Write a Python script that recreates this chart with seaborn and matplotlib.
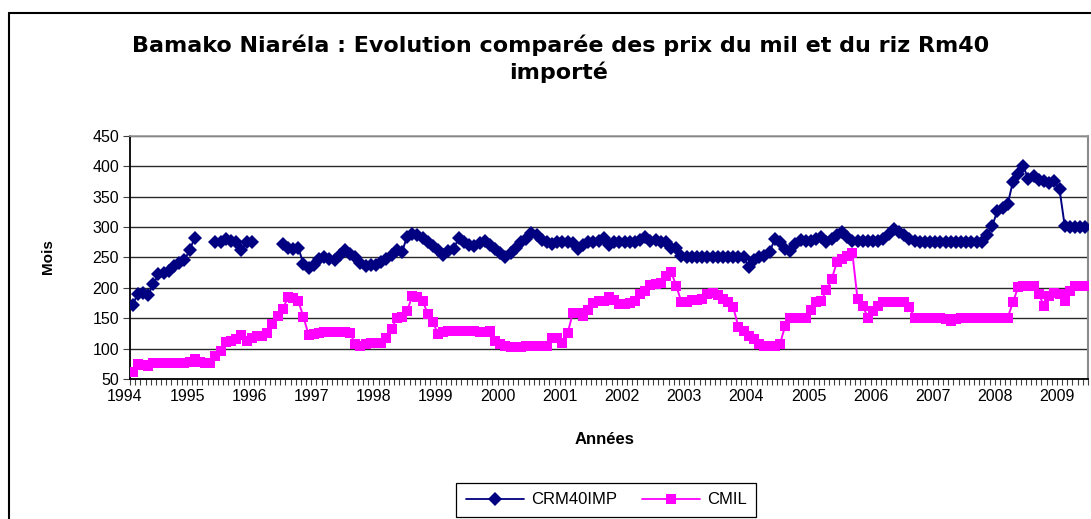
import numpy as np
import pandas as pd
import matplotlib
matplotlib.use("Agg")
import matplotlib.pyplot as plt
import matplotlib.transforms as mtransforms
from matplotlib.lines import Line2D
import seaborn as sns

# =====================================================
# DATA  (monthly prices, Jan 1994 -> May 2009)
# =====================================================

years = list(range(1994, 2010))
y_ticks = [50, 100, 150, 200, 250, 300, 350, 400, 450]

N = np.nan

crm40imp = [
    172, 190, 192, 188, 206, 222, 225, 228, 235, 240, 245, 262,   # 1994
    282, N, N, N, 275, 275, 280, 277, 275, 262, 275, 275,         # 1995
    N, N, N, N, N, 272, 266, 263, 266, 239, 233, 238,             # 1996
    248, 251, 247, 246, 254, 262, 256, 250, 241, 236, 238, 238,   # 1997
    243, 248, 254, 262, 258, 284, 289, 287, 282, 275, 268, 262,   # 1998
    254, 260, 264, 282, 276, 270, 269, 273, 277, 270, 264, 257,   # 1999
    251, 257, 266, 276, 280, 290, 286, 278, 275, 272, 275, 275,   # 2000
    276, 273, 264, 270, 275, 276, 277, 281, 270, 276, 276, 276,   # 2001
    276, 276, 279, 284, 277, 279, 276, 275, 265, 266, 252, 250,   # 2002
    250, 250, 250, 250, 250, 250, 250, 250, 250, 250, 250, 234,   # 2003
    245, 250, 252, 258, 280, 275, 264, 261, 272, 279, 277, 277,   # 2004
    280, 283, 275, 280, 286, 292, 283, 277, 277, 277, 277, 277,   # 2005
    277, 280, 289, 297, 291, 286, 280, 277, 275, 275, 276, 276,   # 2006
    276, 276, 276, 276, 276, 276, 276, 276, 276, 287, 302, 326,   # 2007
    331, 338, 374, 387, 400, 378, 384, 377, 375, 372, 375, 362,   # 2008
    302, 300, 300, 300, 300,                                      # 2009
]

cmil = [
    62, 74, 73, 72, 77, 77, 77, 77, 77, 77, 77, 78,               # 1994
    83, 78, 77, 77, 88, 96, 111, 113, 115, 122, 113, 118,         # 1995
    121, 121, 126, 140, 154, 165, 184, 183, 178, 152, 122, 124,   # 1996
    126, 128, 128, 127, 128, 128, 125, 108, 105, 107, 110, 109,   # 1997
    109, 118, 132, 150, 152, 162, 186, 184, 179, 157, 143, 124,   # 1998
    127, 129, 129, 129, 129, 129, 129, 127, 127, 129, 113, 107,   # 1999
    104, 102, 102, 103, 104, 104, 104, 104, 104, 118, 117, 110,   # 2000
    125, 158, 158, 154, 164, 175, 178, 178, 184, 180, 173, 173,   # 2001
    175, 178, 190, 195, 205, 206, 208, 220, 226, 203, 176, 177,   # 2002
    180, 180, 182, 190, 192, 188, 182, 176, 168, 135, 129, 121,   # 2003
    116, 108, 104, 104, 104, 107, 137, 151, 151, 151, 151, 163,   # 2004
    176, 179, 196, 214, 242, 247, 252, 257, 181, 170, 151, 162,   # 2005
    170, 176, 176, 176, 176, 176, 168, 151, 151, 151, 151, 151,   # 2006
    151, 148, 146, 148, 151, 151, 151, 151, 151, 151, 151, 151,   # 2007
    151, 151, 176, 201, 203, 203, 203, 190, 170, 187, 192, 190,   # 2008
    178, 195, 203, 203, 203,                                      # 2009
]

navy = "#000080"
magenta = "#FF00FF"

# =====================================================
# DATAFRAMES
# =====================================================

n_months = len(cmil)
mois = np.arange(n_months) + 0.5

crm_df = pd.DataFrame({"Mois": mois, "Prix": crm40imp})
crm_df["seg"] = crm_df["Prix"].isna().cumsum()
crm_df = crm_df.dropna()

mil_df = pd.DataFrame({"Mois": mois, "Prix": cmil})

# =====================================================
# FIGURE
# =====================================================

sns.set_style("white")
plt.rcParams["font.family"] = ["Liberation Sans", "DejaVu Sans"]
plt.rcParams["text.color"] = "black"
plt.rcParams["xtick.color"] = "black"
plt.rcParams["ytick.color"] = "black"

fig = plt.figure(figsize=(10.91, 5.19), dpi=100)
ax = fig.add_axes([130 / 1091, 140 / 519, 958 / 1091, 243.3 / 519])

sns.lineplot(
    data=crm_df, x="Mois", y="Prix", units="seg", estimator=None,
    color=navy, marker="D", markersize=7.5, markeredgecolor=navy,
    markeredgewidth=0, linewidth=1.4, ax=ax, legend=False, zorder=3
)

sns.lineplot(
    data=mil_df, x="Mois", y="Prix", estimator=None,
    color=magenta, marker="s", markersize=6.5, markeredgecolor=magenta,
    markeredgewidth=0, linewidth=1.4, ax=ax, legend=False, zorder=3
)

# axes
ax.set_xlim(0, n_months)
ax.set_ylim(50, 450)
ax.set_yticks(y_ticks)
ax.set_yticklabels([str(v) for v in y_ticks], fontsize=11.5)
ax.set_xticks([12 * k for k in range(len(years))])
ax.set_xticklabels([str(y) for y in years], fontsize=11.5)
ax.set_xticks(np.arange(0, n_months + 1), minor=True)
ax.tick_params(axis="x", which="both", direction="out", length=4,
               width=0.8, color="#404040", labelcolor="black", pad=3,
               bottom=True)
ax.tick_params(axis="y", direction="out", length=5, width=0.8,
               color="#404040", labelcolor="black", pad=3, left=True)
ax.set_xlabel("")
ax.set_ylabel("")

offset = mtransforms.ScaledTranslation(-5 / 100, 0, fig.dpi_scale_trans)
for lab in ax.get_xticklabels():
    lab.set_transform(lab.get_transform() + offset)

ax.yaxis.grid(True, color="#2a2a2a", linewidth=1)
ax.xaxis.grid(False)
ax.set_axisbelow(True)

ax.spines["left"].set_color("black")
ax.spines["bottom"].set_color("black")
ax.spines["left"].set_linewidth(1.3)
ax.spines["bottom"].set_linewidth(1.3)
ax.spines["top"].set_color("#9a9a9a")
ax.spines["right"].set_color("#8a8a8a")
ax.spines["top"].set_linewidth(1.2)
ax.spines["right"].set_linewidth(1.5)

# =====================================================
# TEXTS
# =====================================================

title_font = ["DejaVu Sans"]
fig.text(561 / 1091, 1 - 45 / 519,
         "Bamako Niaréla : Evolution comparée des prix du mil et du riz Rm40",
         ha="center", va="center", fontsize=16, fontweight="bold",
         family=title_font, color="black")
fig.text(559 / 1091, 1 - 72 / 519, "importé",
         ha="center", va="center", fontsize=16, fontweight="bold",
         family=title_font, color="black")

fig.text(48 / 1091, 1 - 257 / 519, "Mois", rotation=90,
         ha="center", va="center", fontsize=11, fontweight="bold",
         color="black")
fig.text(605 / 1091, 1 - 440 / 519, "Années",
         ha="center", va="center", fontsize=12, fontweight="bold",
         color="black")

# =====================================================
# LEGEND + CHART BORDER
# =====================================================

handles = [
    Line2D([], [], color=navy, marker="D", markersize=7, linewidth=1.3,
           markeredgewidth=0),
    Line2D([], [], color=magenta, marker="s", markersize=6.5, linewidth=1.3,
           markeredgewidth=0),
]
leg = fig.legend(handles, ["CRM40IMP", "CMIL"], loc="center",
                 bbox_to_anchor=(606 / 1091, 1 - 500 / 519), ncol=2,
                 fontsize=12, frameon=True, fancybox=False,
                 edgecolor="black", framealpha=1, handlelength=3.5,
                 columnspacing=1.5, handletextpad=0.4, borderpad=0.55)
leg.get_frame().set_linewidth(0.9)
for t in leg.get_texts():
    t.set_color("black")

fig.add_artist(Line2D([9 / 1091, 9 / 1091], [0, 1 - 13 / 519],
                      color="black", linewidth=1.5))
fig.add_artist(Line2D([9 / 1091, 1], [1 - 13 / 519, 1 - 13 / 519],
                      color="black", linewidth=1.5))

fig.savefig("out.png", dpi=100)
